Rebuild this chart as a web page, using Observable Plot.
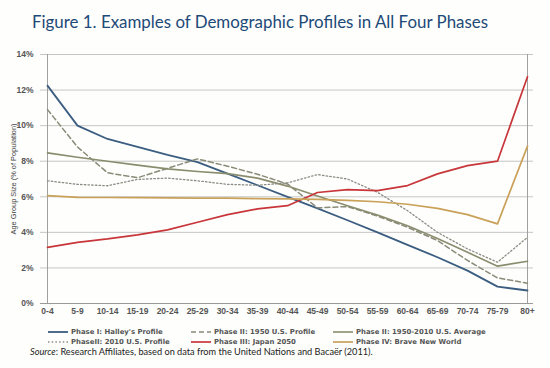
<!DOCTYPE html>
<html>
<head>
<meta charset="utf-8">
<script src="https://cdn.jsdelivr.net/npm/d3@7"></script>
<script src="https://cdn.jsdelivr.net/npm/@observablehq/plot@0.6"></script>
<style>
  html, body { margin: 0; padding: 0; background: #fefefc; }
  #wrap { position: relative; width: 550px; height: 368px; overflow: hidden; background: #fefefc; }
  #title { position: absolute; left: 32px; top: 12px; font-family: Lato, "Open Sans", sans-serif; font-size: 16.9px; line-height: 20px; color: #1d4a78; white-space: nowrap; }
  #chart { position: absolute; left: 0; top: 44px; }
  .leg { position: absolute; height: 8px; line-height: 8px; font-family: "DejaVu Sans", Verdana, sans-serif; font-weight: bold; font-size: 6.9px; color: #555; white-space: nowrap; display: flex; align-items: center; }
  .leg svg { margin-right: 2px; display: block; }
  #caption { position: absolute; left: 30px; top: 346px; line-height: 11px; font-family: Lato, "Open Sans", sans-serif; font-size: 9.2px; color: #222; white-space: nowrap; }
</style>
</head>
<body>
<div id="wrap">
  <div id="title">Figure 1. Examples of Demographic Profiles in All Four Phases</div>
  <div id="chart"></div>
  <div id="legend"></div>
  <div id="caption"><i>Source</i>: Research Affiliates, based on data from the United Nations and Bacaër (2011).</div>
</div>
<script>
const categories = ["0-4","5-9","10-14","15-19","20-24","25-29","30-34","35-39","40-44","45-49","50-54","55-59","60-64","65-69","70-74","75-79","80+"];
const yTicks = [0, 2, 4, 6, 8, 10, 12, 14];

const halley  = [12.25,10.0,9.25,8.8,8.35,7.95,7.3,6.65,6.0,5.35,4.68,4.0,3.3,2.6,1.85,0.95,0.73];
const us1950  = [10.9,8.8,7.35,7.07,7.6,8.13,7.72,7.27,6.72,5.38,5.45,4.92,4.29,3.54,2.42,1.44,1.14];
const usAvg   = [8.47,8.22,8.0,7.78,7.57,7.42,7.3,7.05,6.6,6.05,5.5,4.98,4.37,3.65,2.88,2.1,2.38];
const us2010  = [6.9,6.7,6.62,6.98,7.05,6.9,6.7,6.65,6.78,7.25,7.0,6.25,5.22,4.0,3.07,2.32,3.72];
const japan   = [3.16,3.44,3.63,3.86,4.14,4.57,5.0,5.32,5.5,6.24,6.4,6.35,6.63,7.29,7.75,8.0,12.75];
const brave   = [6.07,5.97,5.96,5.95,5.94,5.93,5.92,5.9,5.88,5.85,5.8,5.72,5.58,5.35,5.0,4.48,8.85];

const seriesNames = ["Phase I: Halley's Profile","Phase II: 1950 U.S. Profile","Phase II: 1950-2010 U.S. Average","PhaseII: 2010 U.S. Profile","Phase III: Japan 2050","Phase IV: Brave New World"];
const seriesValues = [halley, us1950, usAvg, us2010, japan, brave];
const styles = [
  {stroke:"#3a5d80", strokeWidth:1.8, dash:null},
  {stroke:"#8a8a78", strokeWidth:1.5, dash:"5,3"},
  {stroke:"#8a8c6e", strokeWidth:1.6, dash:null},
  {stroke:"#8c8c84", strokeWidth:1.3, dash:"1.5,2.2"},
  {stroke:"#c8363a", strokeWidth:1.7, dash:null},
  {stroke:"#c9a159", strokeWidth:1.7, dash:null}
];

const lineMarks = seriesValues.map((vals, i) => {
  const rows = vals.map((v, j) => ({cat: categories[j], value: v}));
  return Plot.lineY(rows, {x: "cat", y: "value", stroke: styles[i].stroke, strokeWidth: styles[i].strokeWidth, strokeDasharray: styles[i].dash || undefined});
});

const chart = Plot.plot({
  width: 550,
  height: 282,
  marginLeft: 40,
  marginRight: 17,
  marginTop: 10,
  marginBottom: 23,
  style: {fontFamily: "'Liberation Sans', Arial, sans-serif", background: "transparent"},
  x: {type: "point", domain: categories, padding: 0},
  y: {domain: [0, 14]},
  marks: [
    Plot.gridY(yTicks, {stroke: "#c6c6c6", strokeOpacity: 1}),
    Plot.ruleY([0], {stroke: "#9a9a9a"}),
    Plot.ruleX([categories[0], categories[categories.length - 1]], {y1: 0, y2: 14, stroke: "#a0a0a0"}),
    Plot.axisY({ticks: yTicks, tickFormat: d => d + "%", tickSize: 0, tickPadding: 7, fontSize: 8.5, fontWeight: "bold", fill: "#555",
      label: "Age Group Size (% of Population)", labelAnchor: "center", labelArrow: "none", labelOffset: 30}),
    Plot.axisX({tickSize: 0, tickPadding: 4, fontSize: 8.5, fontWeight: "bold", fill: "#555", label: null}),
    ...lineMarks
  ]
});
document.getElementById("chart").appendChild(chart);
chart.querySelectorAll("g[aria-label='y-axis label'] text").forEach(t => { t.setAttribute("font-size", "7.4"); t.setAttribute("font-weight", "normal"); t.setAttribute("fill", "#444"); });

// legend
const legPos = [[48, 328], [191, 328], [333, 328], [48, 338], [191, 338], [333, 338]];
const legend = document.getElementById("legend");
seriesNames.forEach((name, i) => {
  const d = document.createElement("div");
  d.className = "leg";
  d.style.left = legPos[i][0] + "px";
  d.style.top = legPos[i][1] + "px";
  const s = styles[i];
  d.innerHTML = `<svg width="21" height="8"><line x1="0" x2="20" y1="4" y2="4" stroke="${s.stroke}" stroke-width="${s.strokeWidth}" ${s.dash ? `stroke-dasharray="${s.dash}"` : ""}/></svg><span>${name}</span>`;
  legend.appendChild(d);
});
</script>
</body>
</html>
